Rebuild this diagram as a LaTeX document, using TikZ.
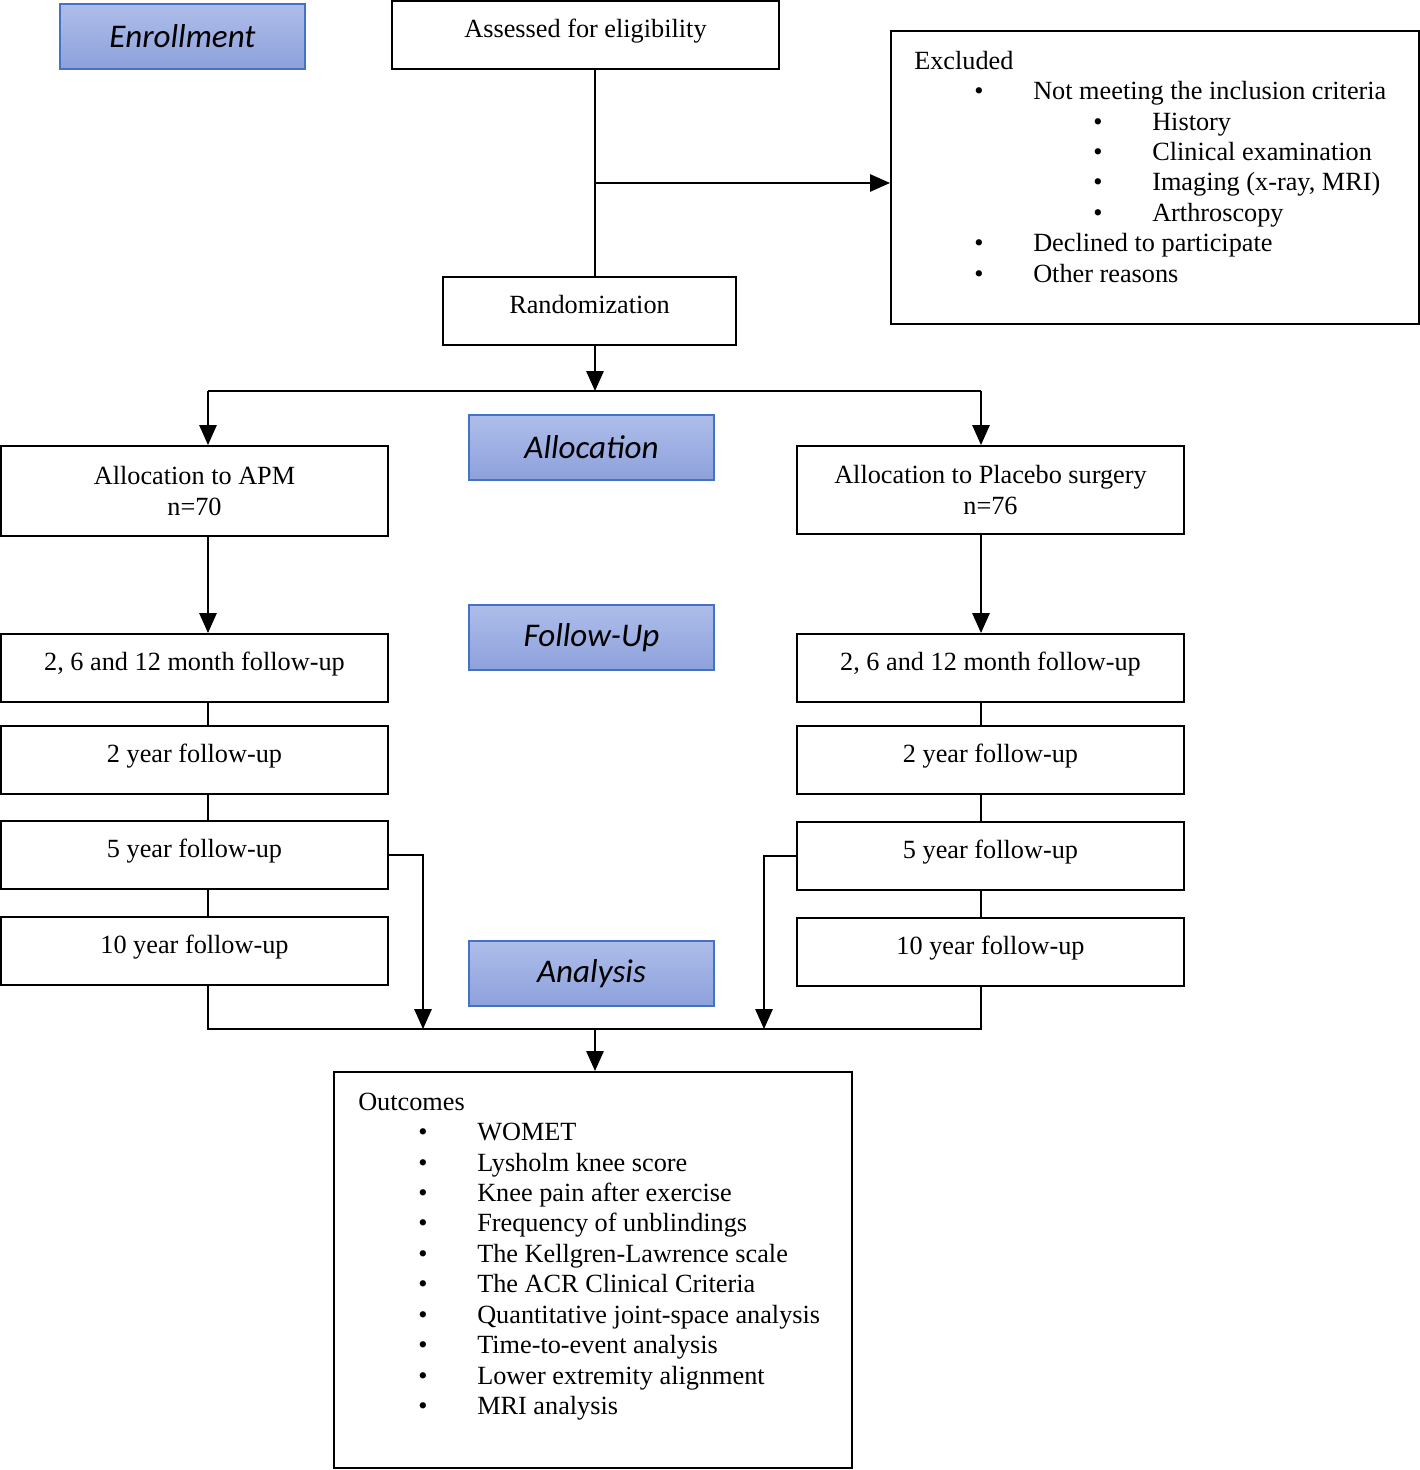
\documentclass[tikz,border=0pt]{standalone}
\usepackage{fontspec}
\setmainfont{Liberation Serif}
\newfontfamily\calib{Carlito}
\usetikzlibrary{arrows.meta}
\definecolor{blueT}{HTML}{AEBDEA}
\definecolor{blueB}{HTML}{8DA1DB}
\definecolor{blueE}{HTML}{4472C4}
\begin{document}
\begin{tikzpicture}[x=0.75pt,y=-0.75pt,
  every node/.style={inner sep=0pt,font=\fontsize{19.7}{22.7}\selectfont},
  box/.style={draw=black,line width=1.5pt,rectangle,minimum width=290.25pt},
  onebox/.style={box,minimum height=51pt,text height=0.66em,text depth=0.26em},
  stagebox/.style={draw=blueE,line width=1.5pt,top color=blueT,bottom color=blueB,
    minimum width=183.75pt,minimum height=48.75pt,font=\fontsize{24.8}{28}\selectfont\calib\itshape},
  txt/.style={anchor=west,text height=0.68em,text depth=0.2em,yshift=-4.5pt},
  conn/.style={line width=1.5pt},
  arr/.style={conn,-{Triangle[length=15pt,width=13pt]}}]
\useasboundingbox (0,0) rectangle (1420,1470);
% stage labels
\node[stagebox] (enr) at (182.5,36.5) {Enrollment};
\node[stagebox] (alc) at (591.5,447.5) {Allocation};
\node[stagebox] (fup) at (591.5,637.5) {Follow-Up};
\node[stagebox] (ana) at (591.5,973.5) {Analysis};
% main boxes
\node[onebox] (ass) at (585.5,35) {Assessed for eligibility};
\node[box,minimum width=396pt,minimum height=219.75pt] (exc) at (1155,177.5) {};
\node[onebox,minimum width=219.75pt] (rnd) at (589.5,311) {Randomization};
\node[box,minimum height=67.5pt,align=center] (apm) at (194.5,491) {Allocation to APM\\n=70};
\node[box,minimum height=66pt,align=center] (plc) at (990.5,490) {Allocation to Placebo surgery\\n=76};
\node[onebox] (lf1) at (194.5,668) {2, 6 and 12 month follow-up};
\node[onebox] (lf2) at (194.5,760) {2 year follow-up};
\node[onebox] (lf3) at (194.5,855) {5 year follow-up};
\node[onebox] (lf4) at (194.5,951) {10 year follow-up};
\node[onebox] (rf1) at (990.5,668) {2, 6 and 12 month follow-up};
\node[onebox] (rf2) at (990.5,760) {2 year follow-up};
\node[onebox] (rf3) at (990.5,856) {5 year follow-up};
\node[onebox] (rf4) at (990.5,952) {10 year follow-up};
\node[box,minimum width=388.5pt,minimum height=297pt] (out) at (593,1270) {};
% excluded text
\node[txt] (e0) at (914,60) {Excluded};
\node[txt] (e1b) at (974,90) {•};
\node[txt] (e1) at (1033,90) {Not meeting the inclusion criteria};
\node[txt] (e2b) at (1093,121) {•};
\node[txt] (e2) at (1152,121) {History};
\node[txt] (e3b) at (1093,151) {•};
\node[txt] (e3) at (1152,151) {Clinical examination};
\node[txt] (e4b) at (1093,181) {•};
\node[txt] (e4) at (1152,181) {Imaging (x-ray, MRI)};
\node[txt] (e5b) at (1093,212) {•};
\node[txt] (e5) at (1152,212) {Arthroscopy};
\node[txt] (e6b) at (974,242) {•};
\node[txt] (e6) at (1033,242) {Declined to participate};
\node[txt] (e7b) at (974,273) {•};
\node[txt] (e7) at (1033,273) {Other reasons};
% outcomes text
\node[txt] (o0) at (358,1101) {Outcomes};
\foreach \y/\t [count=\i] in {1131/WOMET,1162/Lysholm knee score,1192/Knee pain after exercise,
  1222/Frequency of unblindings,1253/The Kellgren-Lawrence scale,1283/The ACR Clinical Criteria,
  1314/Quantitative joint-space analysis,1344/Time-to-event analysis,1375/Lower extremity alignment,
  1405/MRI analysis}{
  \node[txt] (ob\i) at (418,\y) {•};
  \node[txt] (o\i) at (477,\y) {\t};
}
% connectors
\coordinate (J) at (595,183);
\coordinate (S) at (595,391);
\coordinate (L) at (208,391);
\coordinate (R) at (981,391);
\coordinate (M) at (595,1029);
\coordinate (LA) at (423,1029);
\coordinate (RA) at (764,1029);
\draw[conn] (ass.south -| J) -- (rnd.north -| J);
\draw[arr] (J) -- (exc.west |- J);
\draw[arr] (rnd.south -| S) -- (S);
\draw[conn] (L) -- (R);
\draw[arr] (L) -- (apm.north -| L);
\draw[arr] (R) -- (plc.north -| R);
\draw[arr] (apm.south -| L) -- (lf1.north -| L);
\draw[arr] (plc.south -| R) -- (rf1.north -| R);
\draw[conn] (lf1.south -| L) -- (lf2.north -| L);
\draw[conn] (lf2.south -| L) -- (lf3.north -| L);
\draw[conn] (lf3.south -| L) -- (lf4.north -| L);
\draw[conn] (rf1.south -| R) -- (rf2.north -| R);
\draw[conn] (rf2.south -| R) -- (rf3.north -| R);
\draw[conn] (rf3.south -| R) -- (rf4.north -| R);
\draw[conn] (lf4.south -| L) -- (L |- M) -- (R |- M) -- (rf4.south -| R);
\draw[arr] (lf3.east) -| (LA);
\draw[arr] (rf3.west) -| (RA);
\draw[arr] (M) -- (out.north -| M);
\end{tikzpicture}
\end{document}
